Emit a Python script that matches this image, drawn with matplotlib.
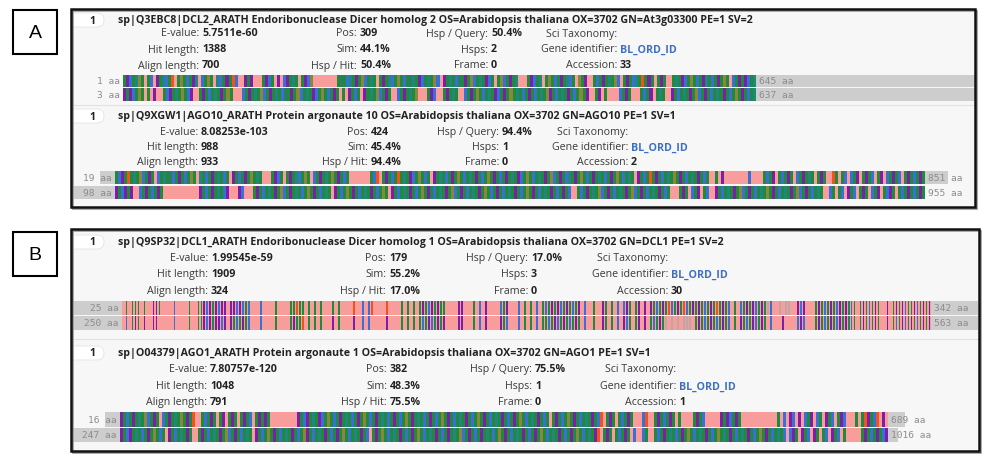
import matplotlib.pyplot as plt
from matplotlib.patches import Rectangle, FancyBboxPatch
import numpy as np

plt.rcParams['font.family'] = ['Open Sans', 'DejaVu Sans']

# ---- data -------------------------------------------------------------
ROW_LABELS = [["E-value:", "Pos:", "Hsp / Query:", "Sci Taxonomy:"],
              ["Hit length:", "Sim:", "Hsps:", "Gene identifier:"],
              ["Align length:", "Hsp / Hit:", "Frame:", "Accession:"]]

a1_title = "sp|Q3EBC8|DCL2_ARATH Endoribonuclease Dicer homolog 2 OS=Arabidopsis thaliana OX=3702 GN=At3g03300 PE=1 SV=2"
a1_values = [["5.7511e-60", "309", "50.4%", ""],
             ["1388", "44.1%", "2", "BL_ORD_ID"],
             ["700", "50.4%", "0", "33"]]
a1_ends = [("1", "645"), ("3", "637")]

a2_title = "sp|Q9XGW1|AGO10_ARATH Protein argonaute 10 OS=Arabidopsis thaliana OX=3702 GN=AGO10 PE=1 SV=1"
a2_values = [["8.08253e-103", "424", "94.4%", ""],
             ["988", "45.4%", "1", "BL_ORD_ID"],
             ["933", "94.4%", "0", "2"]]
a2_ends = [("19", "851"), ("98", "955")]

b1_title = "sp|Q9SP32|DCL1_ARATH Endoribonuclease Dicer homolog 1 OS=Arabidopsis thaliana OX=3702 GN=DCL1 PE=1 SV=2"
b1_values = [["1.99545e-59", "179", "17.0%", ""],
             ["1909", "55.2%", "3", "BL_ORD_ID"],
             ["324", "17.0%", "0", "30"]]
b1_ends = [("25", "342"), ("250", "563")]

b2_title = "sp|O04379|AGO1_ARATH Protein argonaute 1 OS=Arabidopsis thaliana OX=3702 GN=AGO1 PE=1 SV=1"
b2_values = [["7.80757e-120", "382", "75.5%", ""],
             ["1048", "48.3%", "1", "BL_ORD_ID"],
             ["791", "75.5%", "0", "1"]]
b2_ends = [("16", "689"), ("247", "1016")]

# alignment columns ('-' = gap)
a1_query = ("gpbgtyg" "-gb-pgtbgo-gygbgpt-bgyg-tbgpgob" "--" "pgp" "---" "gpbg-p" "-"
            "bpgtg-gpby" "--------"
            "gGgbtgpgyb" "gtg-gpgtbg" "ygbgGtgpbg" "tgyb-pgtgb" "Ggpgybgtgp" "bg-gybgpgt"
            "---" "gpbgt-gygb" "gpgtbg-ygp" "--" "gbgpgtgyb-" "gpgbtgogpg" "-" "gpg" "--"
            "gtgpbgygbg" "ptgbgpgyg-" "bgpgpbgt")
a1_hit = ("pgpbgyg" "-" "g-p--" "gbpgtgygbp" "--" "gpgbgtgpgyg" "---"
          "bgpgtgybgp" "gtgbGgpgyb" "gtgpbgygbg" "pg" "-g-p" "gbg" "-" "pgtgybgpg" "--"
          "bgpgtgy" "---" "gpb" "--" "gpgtg" "--"
          "bgpgygbgtg" "pbgpgygtgb" "gpgbgtgypg" "bgtgpgbgyg" "p" "--" "gp-g" "----"
          "bgpg" "---" "gbgp-gtg" "--" "pgbgtgpgyb" "gpgbgtgpgb" "gygpgbgt")
a2_query = ("gbpgogtgyb" "gpg-bgtgGb" "gpgbgyg-tg" "bgpgtgbg-p" "gbgpgygtg" "---"
            "gpbg-gpgtb" "gyg-bgpgtg" "ygpgbg" "-------"
            "gbo-gpgbgo" "gtgpbgygbg" "-pgtgbgpgy" "gbgtgpgbgy" "gp"
            "gbgpgtgpbg" "ygbgtgpgyb" "gpgbtgpgyg" "bgpgtgbgpg" "ygbgtg-pgb" "gogpgbgtgy" "gpgbgtgpgbg"
            "--" "g-p" "--------" "b" "----" "gbgp-gbgpg" "-bgpgtg-gp" "g" "--"
            "og-gb-bgp-" "gpgb-gp-bg" "pgb-gpgbgp" "g")
a2_hit = ("pgbpgp" "--" "bgpgbgpg" "------------" "pgbgpgtgbp" "---" "pb" "---"
          "gpgbgtgpgy" "bgpgtgbgyg" "pgbgtg-pgb" "gygpgbgtgp" "gbgyg-pgbg" "tgpgbgygpg"
          "bgtgpgybgp" "gbgtgpgygb" "gpg"
          "bgtgpgbgyg" "pgbgtgpgbg" "pgb" "--" "gbgpgtgybg" "pgbgtgpgyb" "gpgbgtgpgb" "g"
          "---" "gpg-bgp-gb" "--" "pgbgtgpgyb" "gpgbgtgygp" "gbgtgpgybg" "pgbgtg" "--"
          "bg-gb-pgb-" "gpg-bgp-gb" "pg-gbgpgbg" "pg")
b1_query = ("-g-ggg-g--ppg" "----" "b" "----" "g" "--" "gg" "pbpgpbpp-ppbpbgb" "---" "b"
            "----" "g" "----" "ggogg-g" "-" "g-g" "---" "g-g" "----" "o" "--" "b-bo" "----"
            "o" "----" "g-g-g-" "gpgbpgpgg" "----" "pp" "---" "g-b-p" "----" "bgp" "---"
            "b-g-g-b-g" "bgpgpbgpgbgp" "-b--" "g--" "pg-g-b-" "bpg-gp" "-p-" "pgbgp"
            "gobgpgobgp" "gpgbgpgogpgb" "-g-" "bgpgpbgpg" "lb--l-ll--" "pbp---"
            "gpgbgpgbpgpgbg" "-" "gpgbgpg" "--p-" "gpgpbg" "gpbgpgp")
b1_hit = ("-b-gpg-p--pp-" "----" "b" "----" "g" "--" "gg" "pbpgppbp-pgbgpgb" "---" "b"
          "----" "g" "----" "gpggo-g" "-" "g-g" "---" "p-g" "----" "p" "--" "b-b-" "----"
          "p" "----" "g-g-g-" "gbgpbgpgp" "----" "pp" "---" "g-b-p" "----" "pgb" "---"
          "b-g-g-b-g" "gbgpbgpgbgpg" "-b--" "g--" "pg-g-b-" "pbg-gp" "-p-" "gbgpg"
          "l-l-l-lll-" "gpgbgpgbgpgb" "-g-" "pgbgpbgpg" "-b---p----" "bpb---"
          "gpgbgpgbpgpgbg" "-" "gpgbgpg" "--p-" "gbgpbg" "pgbgpgp")
b2_query = ("pgbgpgtgyb" "gpg-bgpgtg" "ygpg" "o" "--" "gbgpg-gp" "-" "gpg-gpgb-gpgpg"
            "---------"
            "pgbpgtgpbg" "ygbgpgtgbg" "pgygbgpgtg" "bgpgbgygpg" "tgbgpgbgyg" "pgbgtgpgbg" "ygpgbgtg"
            "pgbgpgygbg" "tgpgbg-gpg" "bgygpgbgtg" "pgb" "o-gpg-gbgpg-" "--" "bo" "--"
            "gpgbgpg-g" "----" "gpgb" "-----" "pgpbgpg" "------------" "g-b" "-" "pb" "-"
            "p-bgp-b" "g-pgb-" "gpb" "---g-" "gopgbo" "-p-")
b2_hit = ("pgbpgtgbgp" "gygbg-pgbg" "tgpg" "--"
          "gpgbgtgpgy" "bgpgbgtg-p" "gbgygpgbgt" "gpgbgypgbg" "tgpgbgpgyg"
          "bgtgpgb-gp" "gygbgtgpgb" "gpgygbgtgp" "gbgpgtgybg" "pgbgpgtgbg"
          "ygpgbgtgpg" "bgpgygbgtg" "pgbgpgygbg" "tgp" "o-gpg-gbgpg-b" "--" "bg" "--"
          "gbgpgtgbgp" "gygbgtgpgb" "gygtgpgbgt" "gpgbgygpgb" "gtgb" "-" "bpg" "-"
          "pgb-pg" "-gb-pgb-g" "-----" "gpgbgpgbp")

PALETTE = {'g': '#1e8a3a', 'G': '#2b7d62', 'p': '#7d1ea8', 'b': '#3a6fd6',
           'o': '#f2521c', 'y': '#8a8640', 't': '#23857f', 'l': '#bda6a6'}
GAP = '#f99c9c'

# ---- layout -----------------------------------------------------------
FS = 7.7
cards = [
    dict(title=a1_title, values=a1_values, ends=a1_ends, seqs=(a1_query, a1_hit),
         ty=21, rows=(34, 50, 66), cols=(199, 357, 488, 617), frame=(71, 10, 975, 208),
         span=(123, 756), tracks=((76, 88), (89, 102)), greys=((123, 975), (123, 975)), bw=1.0),
    dict(title=a2_title, values=a2_values, ends=a2_ends, seqs=(a2_query, a2_hit),
         ty=117, rows=(133, 148, 163), cols=(198, 368, 499, 628), frame=(71, 10, 975, 208),
         span=(115, 925), tracks=((172, 185), (187, 200)), greys=((100, 948), (72, 925)), bw=1.0),
    dict(title=b1_title, values=b1_values, ends=b1_ends, seqs=(b1_query, b1_hit),
         ty=243, rows=(259, 275, 292), cols=(208, 386, 528, 668), frame=(71, 230, 979, 452),
         span=(122, 931), tracks=((302, 316), (317, 331)), greys=((72, 978), (72, 978)), bw=0.6),
    dict(title=b2_title, values=b2_values, ends=b2_ends, seqs=(b2_query, b2_hit),
         ty=354, rows=(370, 387, 403), cols=(207, 387, 532, 676), frame=(71, 230, 979, 452),
         span=(120, 888), tracks=((413, 428), (429, 443)), greys=((105, 905), (72, 898)), bw=0.9),
]

fig = plt.figure(figsize=(9.95, 4.64), dpi=100)
ax = fig.add_axes([0, 0, 1, 1])

# panel frames
clips = {}
for x0, y0, x1, y1 in [(71, 10, 975, 208), (71, 230, 979, 452)]:
    ax.add_patch(Rectangle((x0 + 1.5, y0 + 1.5), x1 - x0, y1 - y0, fc='none', ec='#9a9a9a', lw=1.2, zorder=9))
    bg = Rectangle((x0, y0), x1 - x0, y1 - y0, fc='#f7f7f7', ec='none', zorder=0)
    ax.add_patch(bg)
    clips[(x0, y0, x1, y1)] = bg
    ax.add_patch(Rectangle((x0, y0), x1 - x0, y1 - y0, fc='none', ec='#111111', lw=1.8, zorder=10))

# light separators between hits
ax.plot([72, 974], [106, 106], color='#e2e2e2', lw=0.8, zorder=1)
ax.plot([72, 978], [340, 340], color='#e2e2e2', lw=0.8, zorder=1)

# panel letters
for lab, y0 in [("A", 11), ("B", 233)]:
    ax.add_patch(Rectangle((13, y0), 44, 44, fc='white', ec='black', lw=1.5))
    ax.text(35, y0 + 22, lab, ha='center', va='center', fontsize=14, family='Liberation Sans')

for c in cards:
    ty = c['ty']
    pill = FancyBboxPatch((62, ty - 7), 42, 14, boxstyle='round,pad=0,rounding_size=7',
                          fc='white', ec='#e4e4e4', lw=0.6, zorder=2)
    ax.add_patch(pill)
    pill.set_clip_path(clips[c['frame']])
    ax.text(92, ty, "1", ha='center', va='center', fontsize=FS, fontweight='bold', color='#222', zorder=3)
    ax.text(118, ty, c['title'], ha='left', va='center', fontsize=FS, fontweight='bold', color='#222')
    for r, y in enumerate(c['rows']):
        for k, x in enumerate(c['cols']):
            ax.text(x, y, ROW_LABELS[r][k], ha='right', va='center', fontsize=FS, color='#3a3a3a')
            val = c['values'][r][k]
            col = '#3d6fc4' if val == "BL_ORD_ID" else '#222'
            ax.text(x + 3, y, val, ha='left', va='center', fontsize=FS, fontweight='bold', color=col)
    x0, x1 = c['span']
    for (t0, t1), (g0, g1), seq, (left, right) in zip(c['tracks'], c['greys'], c['seqs'], c['ends']):
        ax.add_patch(Rectangle((g0, t0), g1 - g0, t1 - t0, fc='#cdcdcd', ec='none', zorder=2))
        ax.add_patch(Rectangle((x0, t0), x1 - x0, t1 - t0, fc=GAP, ec='none', zorder=2.5))
        step = (x1 - x0) / len(seq)
        centers = x0 + step * (np.arange(len(seq)) + 0.5)
        idx = [i for i, ch in enumerate(seq) if ch != '-']
        ax.bar(centers[idx], t1 - t0, width=step * c['bw'], bottom=t0,
               color=[PALETTE[seq[i]] for i in idx], linewidth=0, zorder=3)
        ym = (t0 + t1) / 2
        ax.text(x0 - 3, ym, left + " aa", ha='right', va='center', fontsize=6.8,
                family='DejaVu Sans Mono', color='#8c8c8c', zorder=4)
        ax.text(x1 + 3, ym, right + " aa", ha='left', va='center', fontsize=6.8,
                family='DejaVu Sans Mono', color='#8c8c8c', zorder=4)

ax.set_xlim(0, 995)
ax.set_ylim(464, 0)
ax.axis('off')

plt.savefig("out.png", dpi=100)
